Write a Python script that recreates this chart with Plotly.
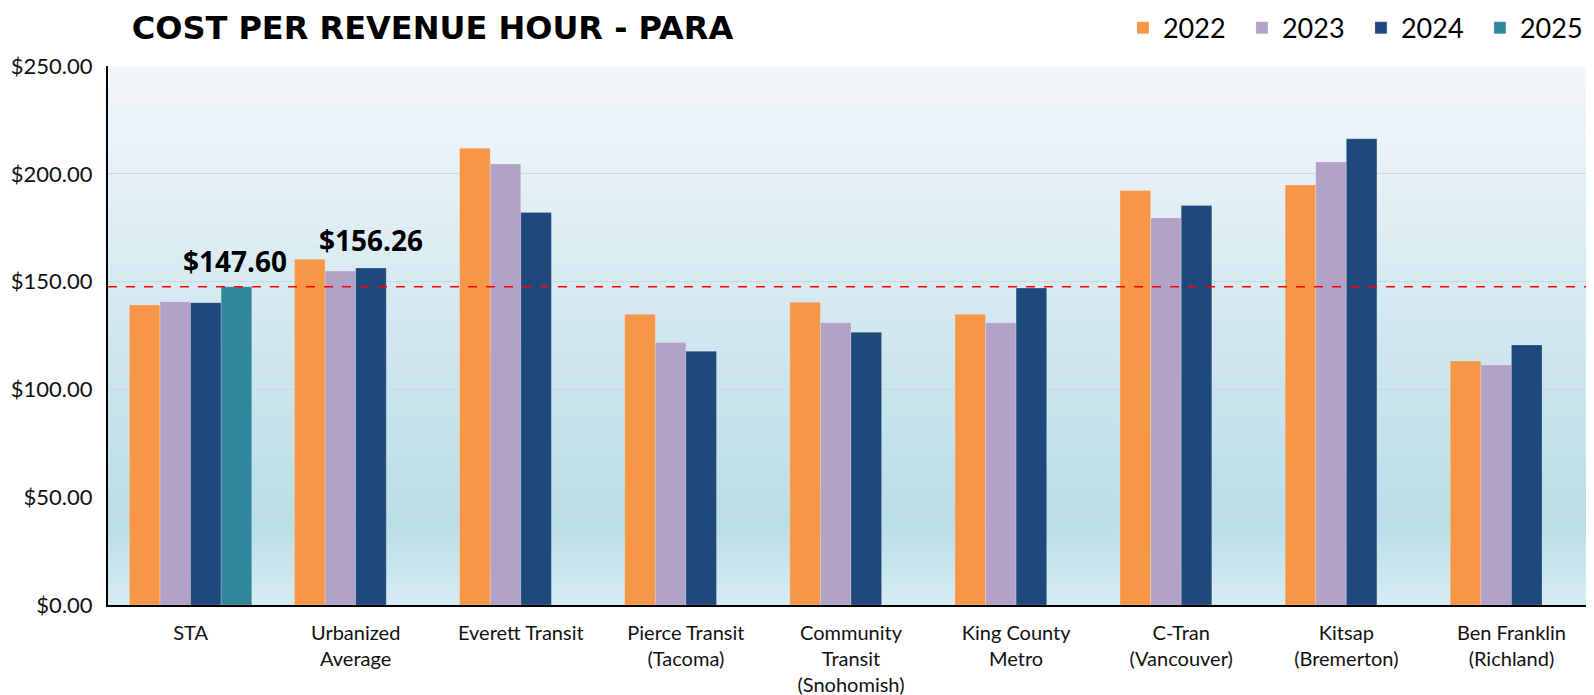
import base64
import struct
import zlib

import plotly.graph_objects as go

categories = ["STA", "Urbanized<br>Average", "Everett Transit", "Pierce Transit<br>(Tacoma)",
              "Community<br>Transit<br>(Snohomish)", "King County<br>Metro", "C-Tran<br>(Vancouver)",
              "Kitsap<br>(Bremerton)", "Ben Franklin<br>(Richland)"]
v2022 = [139.2, 160.4, 211.8, 134.8, 140.4, 134.8, 192.2, 194.8, 113.2]
v2023 = [140.7, 154.9, 204.6, 121.7, 130.9, 130.9, 179.5, 205.5, 111.3]
v2024 = [140.2, 156.26, 182.1, 117.7, 126.5, 147.0, 185.3, 216.2, 120.6]
v2025 = [147.60, None, None, None, None, None, None, None, None]
series_names = ["2022", "2023", "2024", "2025"]
series_colors = ["#F79646", "#B3A2C7", "#1F497D", "#31859C"]
reference_value = 147.60
annot_sta = 147.60
annot_urb = 156.26
y_ticks = [0, 50, 100, 150, 200, 250]
y_tick_text = ["$0.00", "$50.00", "$100.00", "$150.00", "$200.00", "$250.00"]

FONT = "Lato"

# ---- gradient background as a small inline PNG ----
stops = [(0.0, (214, 236, 242)), (0.15, (186, 222, 231)), (0.45, (205, 230, 237)),
         (0.75, (226, 239, 245)), (1.0, (243, 247, 251))]


def interp(t):
    for (t0, c0), (t1, c1) in zip(stops[:-1], stops[1:]):
        if t0 <= t <= t1:
            f = (t - t0) / (t1 - t0)
            return tuple(round(a + (b - a) * f) for a, b in zip(c0, c1))
    return stops[-1][1]


def gradient_png(h=256, w=4):
    raw = b""
    for r in range(h):
        t = 1 - r / (h - 1)  # top row = t 1
        c = interp(t)
        raw += b"\x00" + bytes(c) * w

    def chunk(tag, data):
        return struct.pack(">I", len(data)) + tag + data + struct.pack(">I", zlib.crc32(tag + data) & 0xffffffff)

    png = b"\x89PNG\r\n\x1a\n"
    png += chunk(b"IHDR", struct.pack(">IIBBBBB", w, h, 8, 2, 0, 0, 0))
    png += chunk(b"IDAT", zlib.compress(raw, 9))
    png += chunk(b"IEND", b"")
    return "data:image/png;base64," + base64.b64encode(png).decode()


fig = go.Figure()
for name, vals, col in zip(series_names, [v2022, v2023, v2024, v2025], series_colors):
    fig.add_trace(go.Bar(
        x=categories, y=vals, name=name,
        marker=dict(color=col, line=dict(color="rgba(255,255,255,0.35)", width=0.6)),
    ))

# the page body adds an 8px offset, so the figure is 8px smaller and margins shifted
fig.update_layout(
    width=1586, height=687,
    margin=dict(l=100, r=0, t=58, b=90, autoexpand=False),
    paper_bgcolor="white",
    plot_bgcolor="rgba(0,0,0,0)",
    barmode="group", bargap=0.259, bargroupgap=0,
    images=[dict(source=gradient_png(), xref="paper", yref="paper", x=0, y=1, sizex=1, sizey=1,
                 xanchor="left", yanchor="top", sizing="stretch", layer="below")],
    shapes=[dict(type="line", xref="paper", yref="y", x0=0, x1=1,
                 y0=reference_value, y1=reference_value,
                 line=dict(color="#FF0000", width=1.5, dash="dash"), layer="above")],
    font=dict(family=FONT, color="#111111"),
    title=dict(text="COST PER REVENUE HOUR - PARA", x=0.078, xanchor="left", y=0.971, yanchor="middle",
               font=dict(family="DejaVu Sans", size=32, weight="bold", color="#000000")),
    legend=dict(orientation="h", x=0.683, xanchor="left", y=1.07, yanchor="middle",
                font=dict(family=FONT, size=27, color="#000000"), bgcolor="rgba(0,0,0,0)",
                entrywidth=74, entrywidthmode="pixels", traceorder="normal"),
    showlegend=True,
)
fig.update_yaxes(range=[0, 250], tickvals=y_ticks, ticktext=y_tick_text,
                 showgrid=True, gridcolor="rgba(205,213,218,0.9)", gridwidth=1,
                 showline=True, linecolor="#000000", linewidth=2,
                 ticks="", tickfont=dict(family=FONT, size=22, color="#111111"), ticklabelstandoff=9,
                 zeroline=False)
fig.update_xaxes(showline=True, linecolor="#000000", linewidth=2, ticks="",
                 tickfont=dict(family=FONT, size=20, color="#111111"), ticklabelstandoff=9,
                 tickangle=0)

fig.add_annotation(x="STA", y=annot_sta, text="<b>$%.2f</b>" % annot_sta, showarrow=False,
                   xshift=44, yanchor="bottom", yshift=5,
                   font=dict(family="Open Sans", size=28, color="#000000"))
fig.add_annotation(x="Urbanized<br>Average", y=annot_urb, text="<b>$%.2f</b>" % annot_urb, showarrow=False,
                   xshift=15, yanchor="bottom", yshift=7,
                   font=dict(family="Open Sans", size=28, color="#000000"))

fig.write_html("out.html")
